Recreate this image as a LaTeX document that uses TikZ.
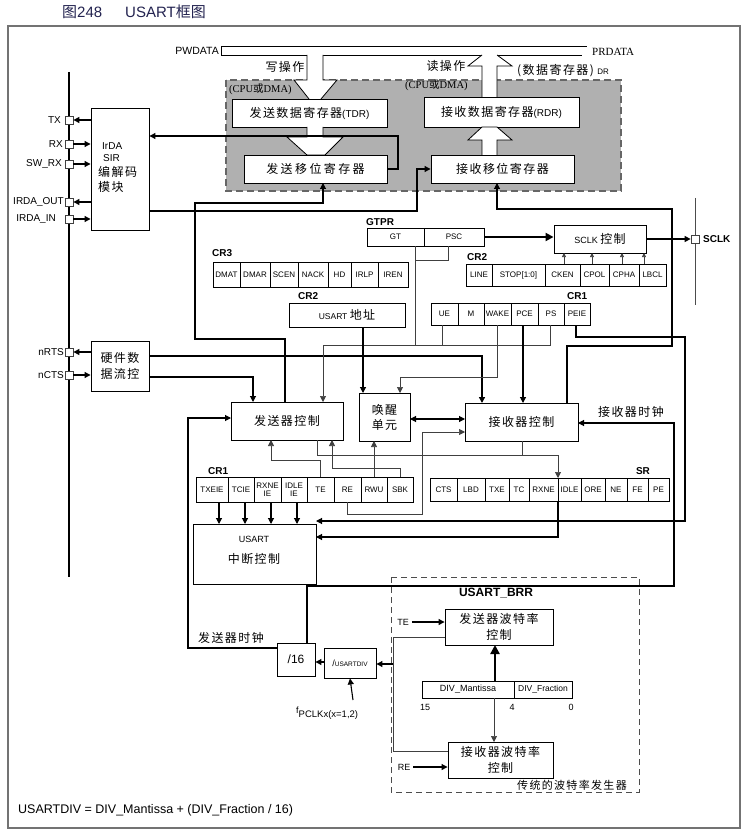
\documentclass[tikz,border=0pt]{standalone}
\usepackage{fontspec}
\setmainfont{Liberation Sans}
\newfontfamily\zhfont{Noto Sans CJK SC}[LetterSpace=12]
\newfontfamily\zhwide{Noto Sans CJK SC}[LetterSpace=20]
\newfontfamily\zhplain{Noto Sans CJK SC}
\newfontfamily\seriffam{Liberation Serif}
\usetikzlibrary{arrows.meta}
\newcommand\fsz[1]{\fontsize{#1}{#1}\selectfont}
\newcommand\zh[1]{{\zhfont #1}}
\definecolor{ttl}{RGB}{35,35,80}
\newcommand\boxLR[7][]{%
  \pgfmathsetmacro\bxw{#4-#3}\pgfmathsetmacro\bxh{#6-#5}%
  \pgfmathsetmacro\bxx{(#3+#4)/2}\pgfmathsetmacro\bxy{(#5+#6)/2}%
  \node[box,minimum width=\bxw pt,minimum height=\bxh pt,#1] (#2) at (\bxx,\bxy) {#7};}
\begin{document}
\begin{tikzpicture}[x=1pt,y=-1pt,
  box/.style={draw, fill=white, line width=0.9pt, inner sep=0pt, align=center},
  cell/.style={box, line width=0.6pt, font=\fsz{8}},
  lbl/.style={font=\bfseries\fsz{10}, inner sep=0pt},
  arr/.style={-{Triangle[length=6pt,width=6pt]}},
  sarr/.style={-{Triangle[length=4pt,width=4pt]}},
  ln/.style={line width=1.1pt},
  thn/.style={line width=0.7pt, black!75},
  pinbox/.style={draw=black!75, fill=white, line width=0.8pt, minimum size=8pt, inner sep=0pt},
  txt/.style={inner sep=0pt},
]
\useasboundingbox (0,0) rectangle (746,834);
\fill[white] (0,0) rectangle (746,834);

% title
\node[anchor=west, txt, font=\fsz{15}, text=ttl] (t1) at (62,12) {{\zhplain 图}248};
\node[anchor=west, txt, font=\fsz{15}, text=ttl] (t2) at (125,12) {USART{\zhplain 框图}};

% frame
\draw[black!55, line width=1.6pt] (8,26) rectangle (740,828);

% ---------- top gray area ----------
\fill[black!31] (226,80) rectangle (621,191);
\draw[black!60, line width=1.1pt, dash pattern=on 7pt off 4pt] (226,80) rectangle (621,191);

% buses
\draw[line width=0.8pt] (221,55) -- (221,46) -- (587,46);
\draw[line width=0.8pt] (221,55) -- (307,55) (323,55) -- (482,55) (497,55) -- (582,55);

% write / read hollow arrows
\fill[white] (307,55) -- (307,80) -- (294,80) -- (309,99) -- (321,99) -- (337,80) -- (323,80) -- (323,55) -- cycle;
\draw[line width=0.8pt] (307,55) -- (307,80) -- (294,80) -- (309,99) (321,99) -- (337,80) -- (323,80) -- (323,55);
\fill[white] (482,97) -- (482,66) -- (468,66) -- (482,55) -- (497,55) -- (512,66) -- (497,66) -- (497,97) -- cycle;
\draw[line width=0.8pt] (482,97) -- (482,66) -- (468,66) -- (482,55) (497,55) -- (512,66) -- (497,66) -- (497,97);

\boxLR[font=\fsz{12}]{tdr}{232}{387}{99}{127}{\zh{发送数据寄存器}\fsz{10}(TDR)}
\boxLR[font=\fsz{12}]{tsr}{244}{387}{155}{183}{{\zhwide 发送移位寄存器}}
\boxLR[font=\fsz{12}]{rdr}{424}{579}{97}{127}{\zh{接收数据寄存器}\fsz{10}(RDR)}
\boxLR[font=\fsz{12}]{rsr}{431}{574}{155}{183}{\zh{接收移位寄存器}}

\filldraw[fill=white, line width=0.8pt] (307,127) -- (307,137) -- (287,137) -- (307,155) -- (325,155) -- (343,137) -- (323,137) -- (323,127);
\filldraw[fill=white, line width=0.8pt] (482,155) -- (482,140) -- (468,140) -- (482,127) -- (497,127) -- (512,140) -- (497,140) -- (497,155);

\node[anchor=east, txt, font=\fsz{10.5}] (pw) at (219,51) {PWDATA};
\node[anchor=west, txt, font=\seriffam\fsz{11}] (pr) at (592,52) {PRDATA};
\node[txt, font=\fsz{12}] (wop) at (285,67) {\zh{写操作}};
\node[txt, font=\fsz{12}] (rop) at (446,66) {\zh{读操作}};
\node[anchor=west, txt, font=\seriffam\fsz{10.5}] (cpu1) at (229,89) {(CPU{\zhplain 或}DMA)};
\node[anchor=west, txt, font=\seriffam\fsz{10.5}] (cpu2) at (405,85) {(CPU{\zhplain 或}DMA)};
\node[anchor=west, txt, font=\fsz{12}] (dr) at (517,71) {\zh{(数据寄存器)} \fsz{8}DR};

% ---------- left pins ----------
\draw[line width=2.2pt] (69,72) -- (69,577);
\boxLR{irda}{91}{149}{108}{230}{}
\node[anchor=west, txt, font=\fsz{10}] at (102,146) {IrDA};
\node[anchor=west, txt, font=\fsz{10}] at (103,158) {SIR};
\node[anchor=west, txt, font=\fsz{12}] at (98,172) {\zh{编解码}};
\node[anchor=west, txt, font=\fsz{12}] at (98,187) {\zh{模块}};
\boxLR[font=\fontsize{12}{16}\selectfont]{hw}{91}{149}{341}{391}{\zh{硬件数}\\\zh{据流控}}

\node[pinbox] (ptx) at (69,120) {};
\node[pinbox] (prx) at (69,144) {};
\node[pinbox] (psw) at (69,164) {};
\node[pinbox] (pio) at (69,202) {};
\node[pinbox] (pii) at (69,219) {};
\node[pinbox] (prts) at (69,352) {};
\node[pinbox] (pcts) at (69,375) {};
\node[anchor=east, txt, font=\fsz{10}] at (61,120) {TX};
\node[anchor=east, txt, font=\fsz{10}] at (63,144) {RX};
\node[anchor=east, txt, font=\fsz{10}] at (62,164) {SW\_RX};
\node[anchor=east, txt, font=\fsz{10}] at (64,202) {IRDA\_OUT};
\node[anchor=east, txt, font=\fsz{10}] at (56,219) {IRDA\_IN};
\node[anchor=east, txt, font=\fsz{10}] at (64,352) {nRTS};
\node[anchor=east, txt, font=\fsz{10}] at (64,375) {nCTS};
\draw[ln,arr] (irda.west |- ptx) -- (ptx.east);
\draw[ln,arr] (prx.east) -- (irda.west |- prx);
\draw[ln,arr] (psw.east) -- (irda.west |- psw);
\draw[ln,arr] (irda.west |- pio) -- (pio.east);
\draw[ln,arr] (pii.east) -- (irda.west |- pii);
\draw[ln,arr] (hw.west |- prts) -- (prts.east);
\draw[ln,arr] (pcts.east) -- (hw.west |- pcts);

% ---------- GTPR / SCLK ----------
\node[lbl, anchor=west] at (366,222) {GTPR};
\boxLR[cell]{gt}{367}{424}{228}{246}{GT}
\boxLR[cell]{psc}{424}{484}{228}{246}{PSC}
\boxLR{sclk}{554}{646}{225}{253}{\fsz{9}SCLK \fsz{12}\zh{控制}}
\draw[line width=2pt, -{Triangle[length=8pt,width=8pt]}] (psc.east) -- (sclk.west |- psc.east);
\draw[line width=1pt, black!70] (695,198) -- (695,305);
\node[pinbox] (psclk) at (695,239) {};
\draw[ln,arr] (sclk.east) -- (psclk.west);
\node[lbl, anchor=west] at (703,239) {SCLK};

% CR2 (upper)
\node[lbl, anchor=west] at (467,257) {CR2};
\boxLR[cell]{line}{466}{492}{264}{286}{LINE}
\boxLR[cell]{stop}{492}{545}{264}{286}{STOP[1:0]}
\boxLR[cell]{cken}{545}{580}{264}{286}{CKEN}
\boxLR[cell]{cpol}{580}{609}{264}{286}{CPOL}
\boxLR[cell]{cpha}{609}{639}{264}{286}{CPHA}
\boxLR[cell]{lbcl}{639}{666}{264}{286}{LBCL}
\draw[thn,sarr] (564,264) -- (564,253);
\draw[thn,sarr] (592,264) -- (592,253);
\draw[thn,sarr] (622,264) -- (622,253);
\draw[thn,sarr] (644,264) -- (644,253);

% CR3
\node[lbl, anchor=west] at (212,253) {CR3};
\boxLR[cell]{dmat}{213}{240}{262}{287}{DMAT}
\boxLR[cell]{dmar}{240}{270}{262}{287}{DMAR}
\boxLR[cell]{scen}{270}{298}{262}{287}{SCEN}
\boxLR[cell]{nack}{298}{328}{262}{287}{NACK}
\boxLR[cell]{hd}{328}{351}{262}{287}{HD}
\boxLR[cell]{irlp}{351}{378}{262}{287}{IRLP}
\boxLR[cell]{iren}{378}{408}{262}{287}{IREN}

% CR2 (address)
\node[lbl, anchor=west] at (298,296) {CR2};
\boxLR{addr}{289}{405}{303}{327}{\fsz{8.5}USART \fsz{12}\zh{地址}}

% CR1 (upper)
\node[lbl, anchor=west] at (567,296) {CR1};
\boxLR[cell]{ue}{431}{458}{303}{325}{UE}
\boxLR[cell]{m}{458}{484}{303}{325}{M}
\boxLR[cell]{wakeb}{484}{511}{303}{325}{WAKE}
\boxLR[cell]{pce}{511}{538}{303}{325}{PCE}
\boxLR[cell]{ps}{538}{564}{303}{325}{PS}
\boxLR[cell]{peie}{564}{590}{303}{325}{PEIE}

% ---------- control boxes ----------
\boxLR[font=\fsz{12}]{txc}{231}{343}{402}{440}{\zh{发送器控制}}
\boxLR[font=\fontsize{12}{15}\selectfont]{wake}{359}{410}{393}{441}{\zh{唤醒}\\\zh{单元}}
\boxLR[font=\fsz{12}]{rxc}{465}{578}{403}{441}{\zh{接收器控制}}

% CR1 (lower)
\node[lbl, anchor=west] at (208,471) {CR1};
\boxLR[cell]{txeie}{196}{228}{477}{502}{TXEIE}
\boxLR[cell]{tcie}{228}{254}{477}{502}{TCIE}
\boxLR[cell,font=\fontsize{8}{7.5}\selectfont]{rxneie}{254}{281}{477}{502}{RXNE\\IE}
\boxLR[cell,font=\fontsize{8}{7.5}\selectfont]{idleie}{281}{307}{477}{502}{IDLE\\IE}
\boxLR[cell]{te}{307}{334}{477}{502}{TE}
\boxLR[cell]{re}{334}{361}{477}{502}{RE}
\boxLR[cell]{rwu}{361}{387}{477}{502}{RWU}
\boxLR[cell]{sbk}{387}{413}{477}{502}{SBK}

% SR
\node[lbl] at (643,471) {SR};
\boxLR[cell]{cts}{430}{457}{478}{501}{CTS}
\boxLR[cell]{lbd}{457}{485}{478}{501}{LBD}
\boxLR[cell]{txe}{485}{509}{478}{501}{TXE}
\boxLR[cell]{tc}{509}{529}{478}{501}{TC}
\boxLR[cell]{rxne}{529}{558}{478}{501}{RXNE}
\boxLR[cell]{idle}{558}{581}{478}{501}{IDLE}
\boxLR[cell]{ore}{581}{605}{478}{501}{ORE}
\boxLR[cell]{ne}{605}{627}{478}{501}{NE}
\boxLR[cell]{fe}{627}{648}{478}{501}{FE}
\boxLR[cell]{pe}{648}{669}{478}{501}{PE}

% interrupt
\boxLR{intc}{193}{316}{524}{584}{}
\node[txt, font=\fsz{9}] at (254,539) {USART};
\node[txt, font=\fsz{12}] at (254,559) {\zh{中断控制}};

% ---------- connectors ----------
\draw[ln,arr] (tsr.east) -- (398,169) -- (398,136) -- (irda.east |- 0,136);
\draw[ln,arr] (149,211) -- (417,211) -- (417,169) -- (rsr.west);
\draw[ln,arr] (285,402) -- (285,339) -- (195,339) -- (195,203) -- (323,203) -- (323,183);
\draw[ln,arr] (567,403) -- (567,346) -- (672,346) -- (672,209) -- (497,209) -- (497,183);
\draw[line width=1.4pt,arr] (149,356) -- (482,356) -- (482,403);
\draw[ln,arr] (149,377) -- (253,377) -- (253,402);

\draw[thn] (415,246) -- (415,345);
\draw[thn] (448,246) -- (448,260) -- (415,260);
\draw[thn] (442,325) -- (442,345);
\draw[thn] (550,325) -- (550,345) -- (323,345);
\draw[thn,arr] (323,345) -- (323,402);
\draw[thn,arr] (497,325) -- (497,377) -- (400,377) -- (400,393);
\draw[ln,arr] (363,327) -- (363,393);
\draw[ln,arr] (523,325) -- (523,403);
\draw[ln,arr] (576,325) -- (576,337) -- (685,337) -- (685,521) -- (316,521);

\draw[ln,{Triangle[length=6pt,width=6pt]}-{Triangle[length=6pt,width=6pt]}] (410,419) -- (465,419);
\draw[thn,arr] (347,502) -- (347,514) -- (422,514) -- (422,432) -- (465,432);
\draw[thn,arr] (320,477) -- (320,460) -- (271,460) -- (271,440);
\draw[thn,arr] (400,477) -- (400,468) -- (332,468) -- (332,440);
\draw[thn,arr] (374,477) -- (374,441);
\draw[thn,arr] (317,440) -- (317,455) -- (558,455) -- (558,478);
\draw[thn] (522,441) -- (522,455);
\draw[ln,arr] (558,501) -- (558,537) -- (316,537);
\foreach \xx in {219,245,271,297} \draw[ln,arr] (\xx,502) -- (\xx,524);

% ---------- clocks ----------
\boxLR[font=\fsz{12}]{d16}{277}{315}{643}{676}{/16}
\boxLR{udiv}{324}{376}{648}{678}{{\fsz{9}/}\fsz{6.5}USARTDIV}
\draw[ln,arr] (307,643) -- (307,586) -- (674,586) -- (674,423) -- (578,423);
\draw[ln,arr] (277,648) -- (188,648) -- (188,418) -- (231,418);
\node[txt, font=\fsz{12}] at (231,638) {\zh{发送器时钟}};
\node[txt, font=\fsz{12}] at (631,412) {\zh{接收器时钟}};
\draw[ln,arr] (udiv.west |- 0,662) -- (d16.east |- 0,662);
\draw[ln,arr] (353,700) -- (udiv.south);
\node[anchor=west, txt] at (296,713) {\fsz{9}f\raisebox{-4pt}{\fsz{9.5}PCLKx(x=1,2)}};

% ---------- BRR ----------
\draw[black!70, line width=1pt, dash pattern=on 6pt off 4pt] (391,577) rectangle (639,792);
\node[txt, font=\bfseries\fsz{12}] at (496,593) {USART\_BRR};
\boxLR[font=\fontsize{12}{16}\selectfont]{txb}{445}{553}{609}{645}{\zh{发送器波特率}\\\zh{控制}}
\boxLR[font=\fontsize{12}{16}\selectfont]{rxb}{448}{553}{742}{778}{\zh{接收器波特率}\\\zh{控制}}
\boxLR[cell,font=\fsz{9}]{mant}{422}{514}{681}{698}{DIV\_Mantissa}
\boxLR[cell,font=\fsz{8.5}]{frac}{514}{572}{681}{698}{DIV\_Fraction}
\node[txt, font=\fsz{9}] at (425,707) {15};
\node[txt, font=\fsz{9}] at (512,707) {4};
\node[txt, font=\fsz{9}] at (571,707) {0};
\node[txt, font=\fsz{9}] (tel) at (403,622) {TE};
\node[txt, font=\fsz{9}] (rel) at (404,767) {RE};
\draw[ln,arr] (tel.east) ++(3,0) -- (txb.west |- 0,622);
\draw[ln,arr] (rel.east) ++(3,0) -- (rxb.west |- 0,767);
\draw[line width=2.5pt,-{Triangle[length=9pt,width=9pt]}] (495,681) -- (495,645);
\draw[thn,arr] (494,698) -- (494,742);
\draw[thn] (445,637) -- (393,637) -- (393,751) -- (448,751);
\draw[ln,arr] (393,664) -- (udiv.east |- 0,664);
\node[txt, font=\fsz{11}] at (572,785) {\zh{传统的波特率发生器}};

\node[anchor=west, txt, font=\fsz{12.5}] at (18,810) {USARTDIV = DIV\_Mantissa + (DIV\_Fraction / 16)};
\end{tikzpicture}
\end{document}
